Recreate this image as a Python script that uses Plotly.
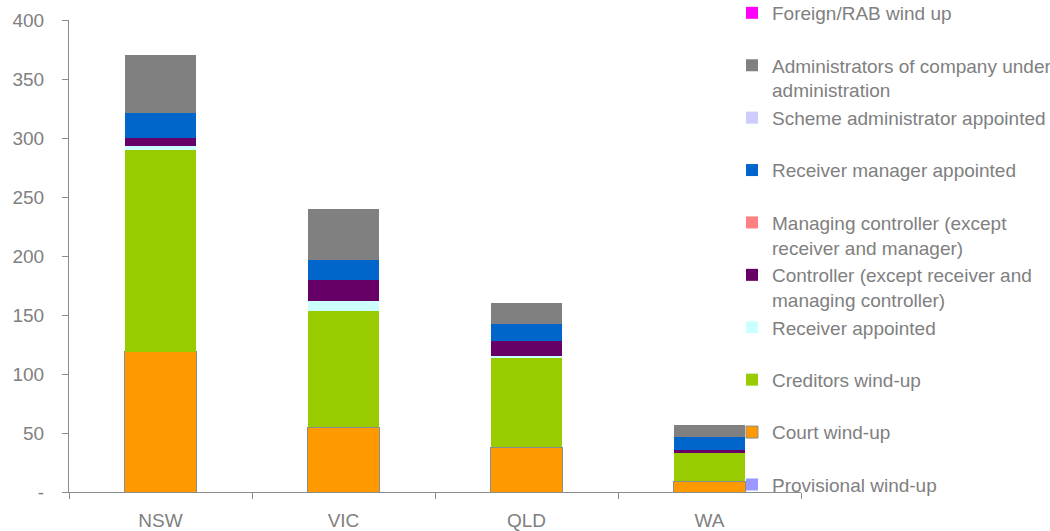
import plotly.graph_objects as go

states = ["NSW", "VIC", "QLD", "WA"]

# Stacking order: bottom -> top
provisional = [0, 0, 0, 0]
court = [119, 55, 38, 9]
creditors = [171, 98, 76, 24]
receiver_appt = [3, 9, 1, 0]
controller = [7, 18, 13, 3]
managing_ctrl = [0, 0, 0, 0]
receiver_mgr = [21, 17, 14, 11]
scheme_admin = [0, 0, 0, 0]
administrators = [49, 43, 18, 10]
foreign_rab = [0, 0, 0, 0]

series = [
    ("Provisional wind-up", provisional, "#9999FF", None),
    ("Court wind-up", court, "#FF9900", "#8C8C8C"),
    ("Creditors wind-up", creditors, "#99CC00", None),
    ("Receiver appointed", receiver_appt, "#CCFFFF", None),
    ("Controller (except receiver and<br>managing controller)", controller, "#660066", None),
    ("Managing controller (except<br>receiver and manager)", managing_ctrl, "#FF8080", None),
    ("Receiver manager appointed", receiver_mgr, "#0066CC", None),
    ("Scheme administrator appointed", scheme_admin, "#CCCCFF", None),
    ("Administrators of company under<br>administration", administrators, "#808080", None),
    ("Foreign/RAB wind up", foreign_rab, "#FF00FF", None),
]

fig = go.Figure()
for name, vals, color, line in series:
    label = name if "<br>" in name else name + "<br>\u00a0"
    fig.add_trace(go.Bar(
        x=states, y=vals, name=label,
        marker=dict(color=color,
                    line=dict(color=line if line else color, width=1 if line else 0)),
    ))

W, H = 1050, 531
left, right_edge, top, bottom = 69, 801, 20, 492
ph = bottom - top
fig.update_layout(
    width=W, height=H,
    barmode="stack",
    bargap=0.607,
    plot_bgcolor="white",
    paper_bgcolor="white",
    font=dict(family="Liberation Sans, Arial, sans-serif", size=19, color="#808080"),
    margin=dict(l=left, r=0, t=top, b=H - bottom, autoexpand=False),
    legend=dict(
        xref="container", yref="paper",
        x=732 / W, xanchor="left",
        y=1 + (top + 6) / ph, yanchor="top",
        traceorder="reversed",
        valign="top",
        maxheight=1,
        font=dict(size=19, color="#808080"),
        bgcolor="rgba(0,0,0,0)",
        borderwidth=0,
    ),
    xaxis=dict(
        domain=[0, (right_edge - left) / (W - left)],
        showgrid=False,
        showline=True, linecolor="#8C8C8C", linewidth=1,
        ticks="outside", tickson="boundaries", ticklen=6, tickcolor="#8C8C8C",
        ticklabelstandoff=11,
    ),
    yaxis=dict(
        range=[0, 400],
        tickvals=[0, 50, 100, 150, 200, 250, 300, 350, 400],
        ticktext=["-", "50", "100", "150", "200", "250", "300", "350", "400"],
        showgrid=False, zeroline=False,
        showline=True, linecolor="#8C8C8C", linewidth=1,
        ticks="outside", ticklen=6, tickcolor="#8C8C8C",
        ticklabelstandoff=14,
    ),
)

fig.write_html("out.html")
